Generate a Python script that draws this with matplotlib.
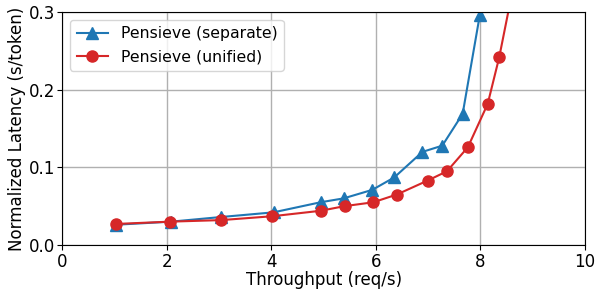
import matplotlib
matplotlib.use("Agg")
import matplotlib.pyplot as plt

# Pensieve (separate)
sep_x = [1.02, 2.08, 3.04, 4.04, 4.94, 5.38, 5.93, 6.35, 6.89, 7.27, 7.66, 7.99]
sep_y = [0.026, 0.030, 0.036, 0.042, 0.055, 0.060, 0.071, 0.087, 0.120, 0.128, 0.169, 0.297]

# Pensieve (unified)
uni_x = [1.02, 2.06, 3.04, 4.02, 4.94, 5.40, 5.95, 6.40, 6.99, 7.36, 7.76, 8.14, 8.36, 8.65]
uni_y = [0.027, 0.030, 0.032, 0.037, 0.044, 0.050, 0.055, 0.065, 0.083, 0.095, 0.126, 0.182, 0.242, 0.340]

fig, ax = plt.subplots(figsize=(5.95, 2.94), dpi=100)
fig.subplots_adjust(left=0.105, right=0.983, top=0.958, bottom=0.167)

ax.plot(sep_x, sep_y, color="#1f77b4", marker="^", ms=8, lw=1.5, label="Pensieve (separate)")
ax.plot(uni_x, uni_y, color="#d62728", marker="o", ms=8, lw=1.5, label="Pensieve (unified)")

ax.set_xlim(0, 10)
ax.set_ylim(0, 0.3)
ax.set_xticks([0, 2, 4, 6, 8, 10])
ax.set_yticks([0.0, 0.1, 0.2, 0.3])
ax.grid(True, color="#b0b0b0", lw=1)
ax.set_axisbelow(True)
ax.tick_params(labelsize=12, pad=2)
ax.set_xlabel("Throughput (req/s)", fontsize=12, labelpad=0)
ax.set_ylabel("Normalized Latency (s/token)", fontsize=12, labelpad=2)
ax.legend(loc="upper left", fontsize=11.3)

fig.savefig("out.png", dpi=100)
